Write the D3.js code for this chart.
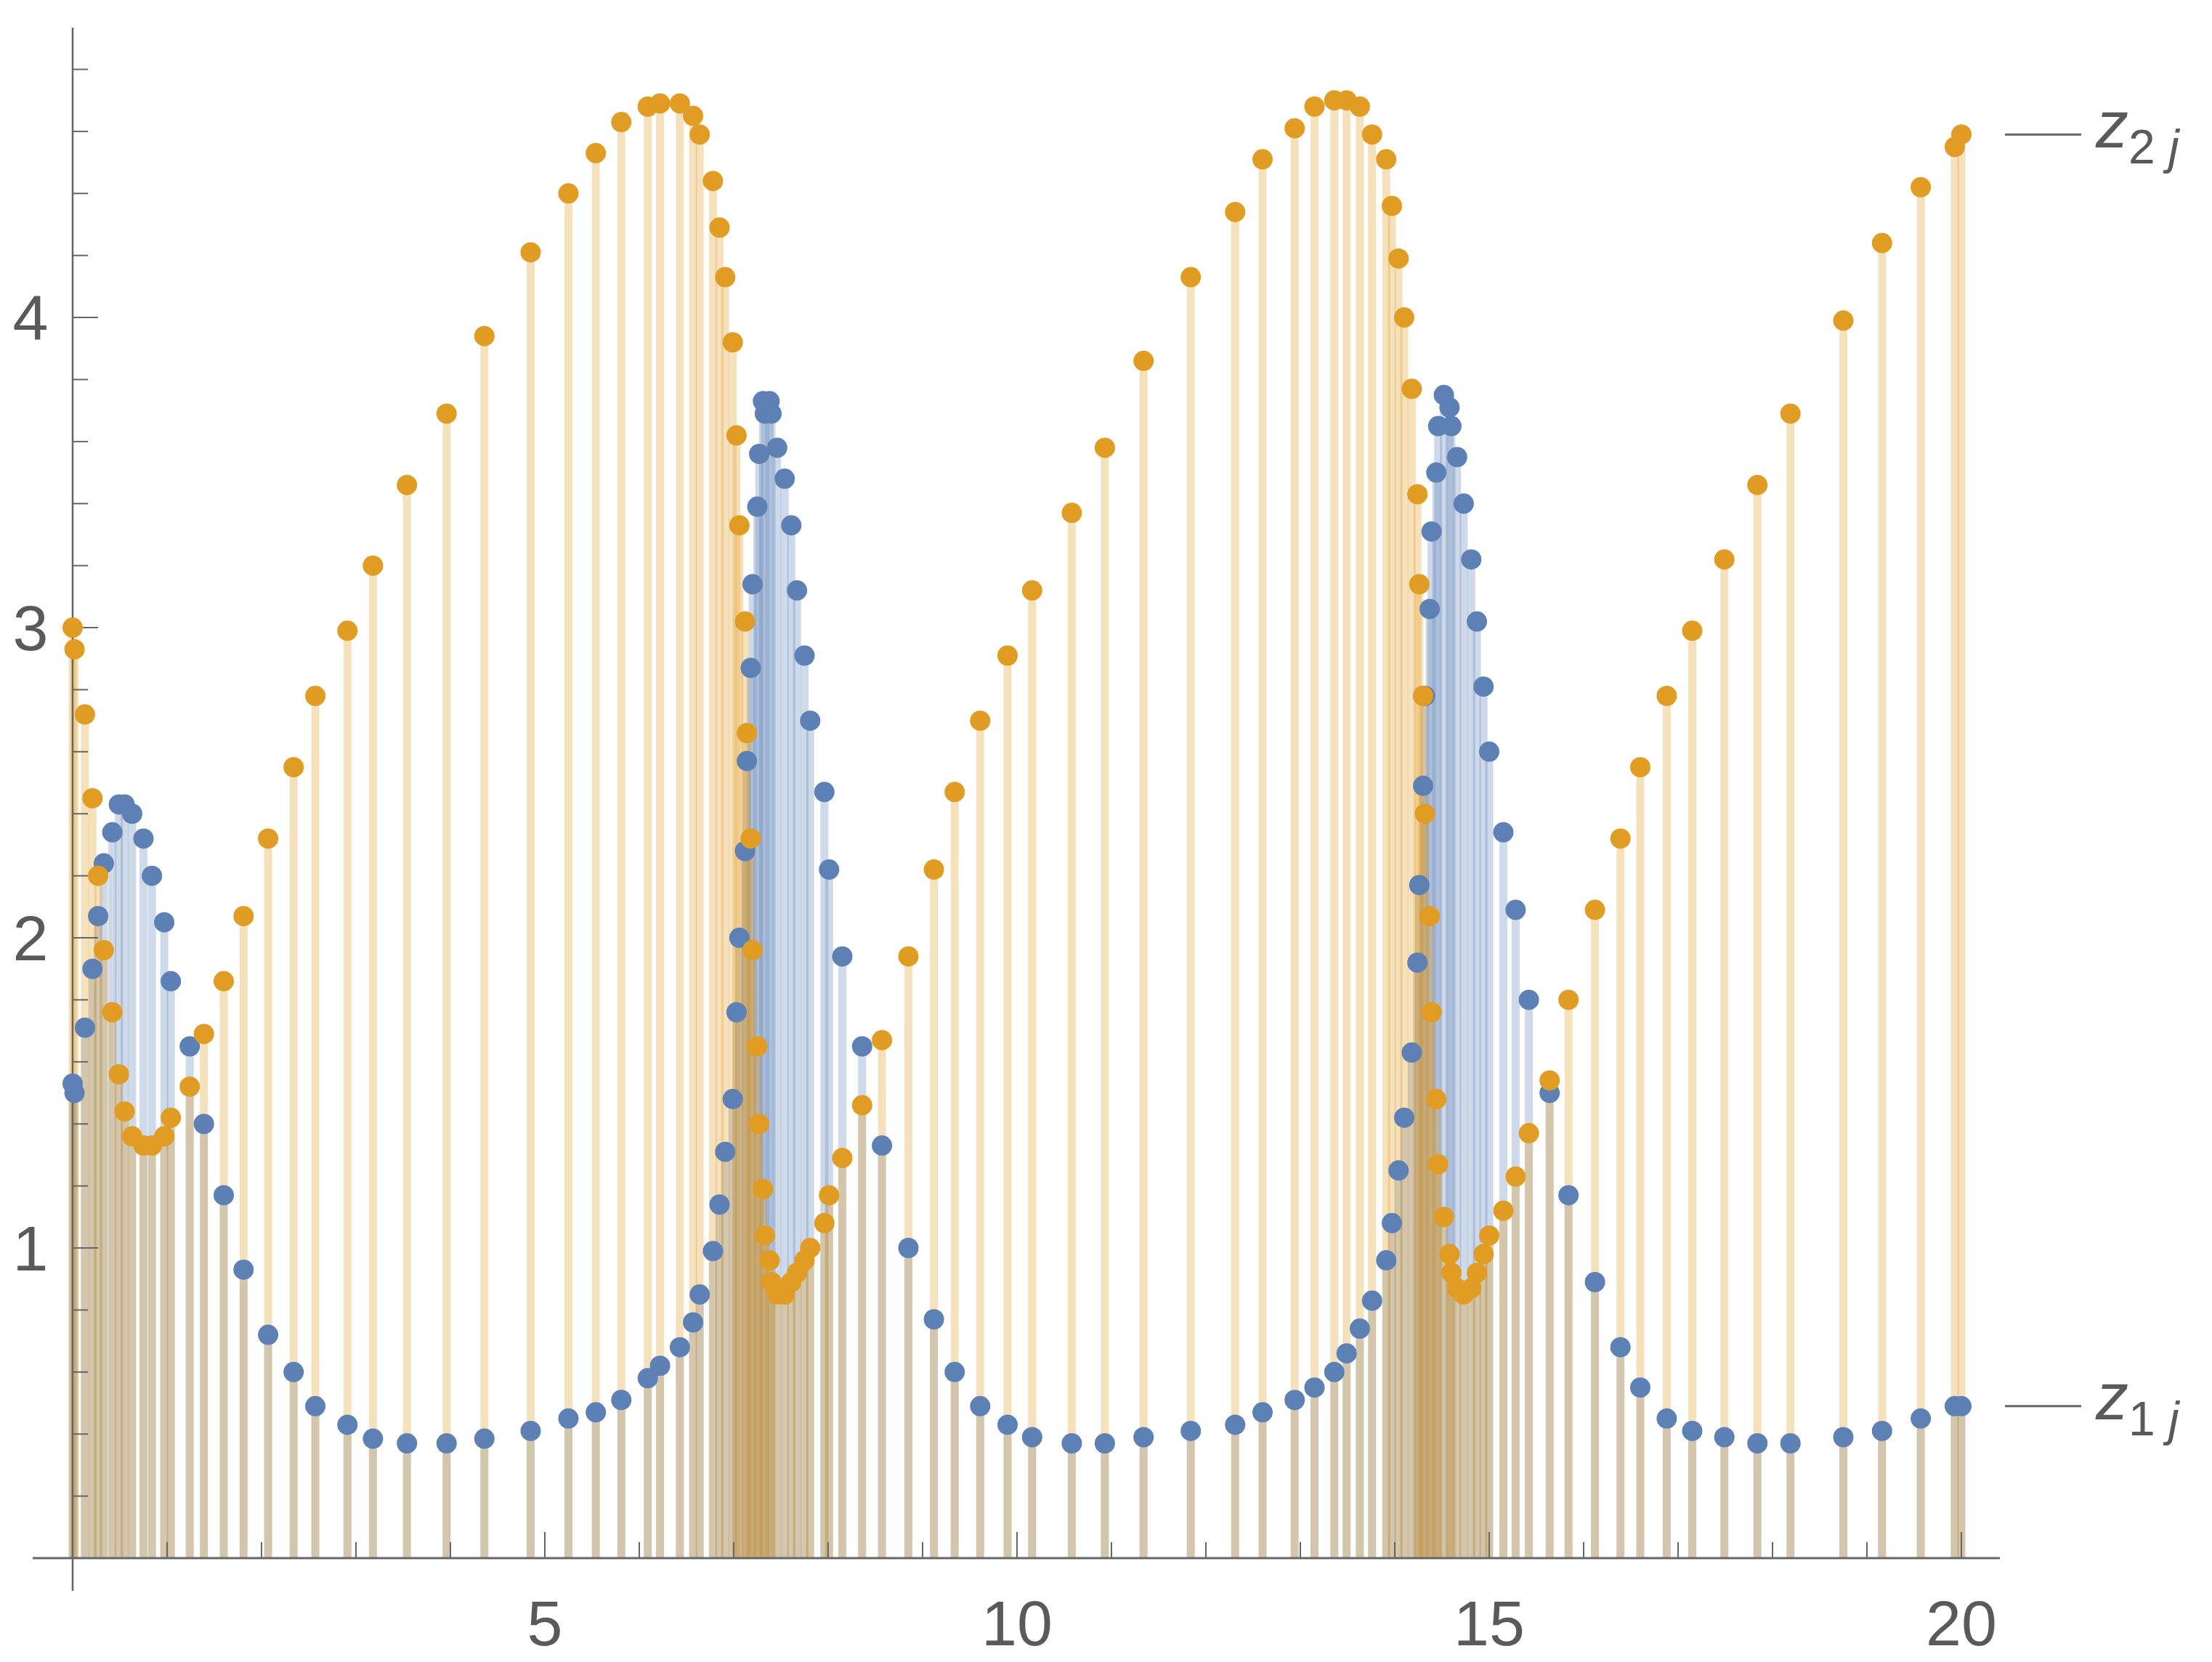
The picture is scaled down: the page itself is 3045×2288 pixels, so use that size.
<!DOCTYPE html>
<html>
<head>
<meta charset="utf-8">
<script src="https://cdn.jsdelivr.net/npm/d3@7"></script>
<style>
  body { margin: 0; background: #fff; }
  text { font-family: "Liberation Sans", Arial, sans-serif; fill: #5a5a5a; }
</style>
</head>
<body>
<svg id="chart" width="3045" height="2288"></svg>
<script>
// sample points (shared by both series)
const xs = [0, 0.02, 0.13, 0.21, 0.27, 0.33, 0.42, 0.49, 0.55, 0.63, 0.75, 0.84, 0.97, 1.04, 1.24, 1.39, 1.60, 1.81, 2.07, 2.34, 2.57, 2.91, 3.18, 3.54, 3.96, 4.36, 4.85, 5.25, 5.54, 5.81, 6.09, 6.22, 6.43, 6.57, 6.64, 6.78, 6.85, 6.91, 6.99, 7.03, 7.06, 7.12, 7.14, 7.18, 7.20, 7.25, 7.27, 7.31, 7.33, 7.38, 7.40, 7.46, 7.54, 7.61, 7.67, 7.75, 7.81, 7.96, 8.01, 8.15, 8.36, 8.57, 8.85, 9.12, 9.34, 9.61, 9.90, 10.16, 10.58, 10.93, 11.34, 11.84, 12.31, 12.60, 12.94, 13.15, 13.36, 13.49, 13.63, 13.76, 13.91, 13.97, 14.04, 14.10, 14.18, 14.24, 14.26, 14.30, 14.32, 14.37, 14.39, 14.44, 14.46, 14.52, 14.58, 14.60, 14.66, 14.73, 14.81, 14.87, 14.94, 15.00, 15.15, 15.28, 15.42, 15.64, 15.84, 16.12, 16.39, 16.60, 16.88, 17.15, 17.49, 17.84, 18.19, 18.75, 19.16, 19.57, 19.93, 20.0];

const z1 = [1.53, 1.50, 1.71, 1.90, 2.07, 2.24, 2.34, 2.43, 2.43, 2.40, 2.32, 2.20, 2.05, 1.86, 1.65, 1.40, 1.17, 0.93, 0.72, 0.60, 0.49, 0.43, 0.385, 0.37, 0.37, 0.385, 0.41, 0.45, 0.47, 0.51, 0.58, 0.62, 0.68, 0.76, 0.85, 0.99, 1.14, 1.31, 1.48, 1.76, 2.00, 2.28, 2.57, 2.87, 3.14, 3.39, 3.56, 3.73, 3.69, 3.73, 3.69, 3.58, 3.48, 3.33, 3.12, 2.91, 2.70, 2.47, 2.22, 1.94, 1.65, 1.33, 1.00, 0.77, 0.60, 0.49, 0.43, 0.39, 0.37, 0.37, 0.39, 0.41, 0.43, 0.47, 0.51, 0.55, 0.60, 0.66, 0.74, 0.83, 0.96, 1.08, 1.25, 1.42, 1.63, 1.92, 2.17, 2.49, 2.78, 3.06, 3.31, 3.50, 3.65, 3.75, 3.71, 3.65, 3.55, 3.40, 3.22, 3.02, 2.81, 2.60, 2.34, 2.09, 1.80, 1.50, 1.17, 0.89, 0.68, 0.55, 0.45, 0.41, 0.39, 0.37, 0.37, 0.39, 0.41, 0.45, 0.49, 0.49];

const z2 = [3.00, 2.93, 2.72, 2.45, 2.20, 1.96, 1.76, 1.56, 1.44, 1.36, 1.33, 1.33, 1.36, 1.42, 1.52, 1.69, 1.86, 2.07, 2.32, 2.55, 2.78, 2.99, 3.20, 3.46, 3.69, 3.94, 4.21, 4.40, 4.53, 4.63, 4.68, 4.69, 4.69, 4.65, 4.59, 4.44, 4.29, 4.13, 3.92, 3.62, 3.33, 3.02, 2.66, 2.32, 1.96, 1.65, 1.40, 1.19, 1.04, 0.96, 0.89, 0.85, 0.85, 0.89, 0.92, 0.96, 1.00, 1.08, 1.17, 1.29, 1.46, 1.67, 1.94, 2.22, 2.47, 2.70, 2.91, 3.12, 3.37, 3.58, 3.86, 4.13, 4.34, 4.51, 4.61, 4.68, 4.70, 4.70, 4.68, 4.59, 4.51, 4.36, 4.19, 4.00, 3.77, 3.43, 3.14, 2.78, 2.40, 2.07, 1.76, 1.48, 1.27, 1.10, 0.98, 0.92, 0.87, 0.85, 0.87, 0.92, 0.98, 1.04, 1.12, 1.23, 1.37, 1.54, 1.80, 2.09, 2.32, 2.55, 2.78, 2.99, 3.22, 3.46, 3.69, 3.99, 4.24, 4.42, 4.55, 4.59];

const xTicks = [5, 10, 15, 20];
const yTicks = [1, 2, 3, 4];

const svg = d3.select("#chart");
const x = d3.scaleLinear().domain([0, 20]).range([100, 2700]);
const y = d3.scaleLinear().domain([0, 4.93]).range([2145, 40]);

const blue = "#5e81b5", orange = "#e19c24", axisCol = "#666";

function stems(vals, col) {
  svg.append("g").selectAll("line").data(xs).join("line")
    .attr("x1", d => x(d)).attr("x2", d => x(d))
    .attr("y1", y(0)).attr("y2", (d, i) => y(vals[i]))
    .attr("stroke", col).attr("stroke-opacity", 0.3).attr("stroke-width", 11);
}
stems(z1, blue);
stems(z2, orange);

// axes
const g = svg.append("g").attr("stroke", axisCol);
g.append("line").attr("x1", 45).attr("x2", 2753).attr("y1", y(0)).attr("y2", y(0)).attr("stroke-width", 3);
g.append("line").attr("x1", x(0)).attr("x2", x(0)).attr("y1", 2190).attr("y2", 38).attr("stroke-width", 2.5);
d3.range(1, 21).forEach(t => {
  const major = t % 5 === 0;
  g.append("line").attr("x1", x(t)).attr("x2", x(t))
    .attr("y1", y(0)).attr("y2", y(0) - (major ? 36 : 22)).attr("stroke-width", 2);
});
d3.range(1, 25).forEach(k => {
  const t = k * 0.2, major = k % 5 === 0;
  g.append("line").attr("x1", x(0)).attr("x2", x(0) + (major ? 35 : 21))
    .attr("y1", y(t)).attr("y2", y(t)).attr("stroke-width", 2);
});
svg.append("g").selectAll("text").data(xTicks).join("text")
  .attr("x", d => x(d)).attr("y", 2265).attr("text-anchor", "middle")
  .attr("font-size", 88).text(d => d);
svg.append("g").selectAll("text").data(yTicks).join("text")
  .attr("x", 42).attr("y", d => y(d) + 31).attr("text-anchor", "middle")
  .attr("font-size", 88).text(d => d);

function dots(vals, col) {
  svg.append("g").selectAll("circle").data(xs).join("circle")
    .attr("cx", d => x(d)).attr("cy", (d, i) => y(vals[i]))
    .attr("r", 14).attr("fill", col);
}
dots(z1, blue);
dots(z2, orange);

// right-side labels
[[z1, "1"], [z2, "2"]].forEach(([vals, s]) => {
  const yy = y(vals[vals.length - 1]);
  svg.append("line").attr("x1", 2760).attr("x2", 2865).attr("y1", yy).attr("y2", yy)
    .attr("stroke", axisCol).attr("stroke-width", 3);
  const t = svg.append("text").attr("x", 2885).attr("y", yy + 18).attr("font-size", 90);
  t.append("tspan").attr("font-style", "italic").text("z");
  t.append("tspan").attr("font-size", 66).attr("dy", 22).text(s + " ");
  t.append("tspan").attr("font-size", 66).attr("font-style", "italic").text("j");
});
</script>
</body>
</html>
